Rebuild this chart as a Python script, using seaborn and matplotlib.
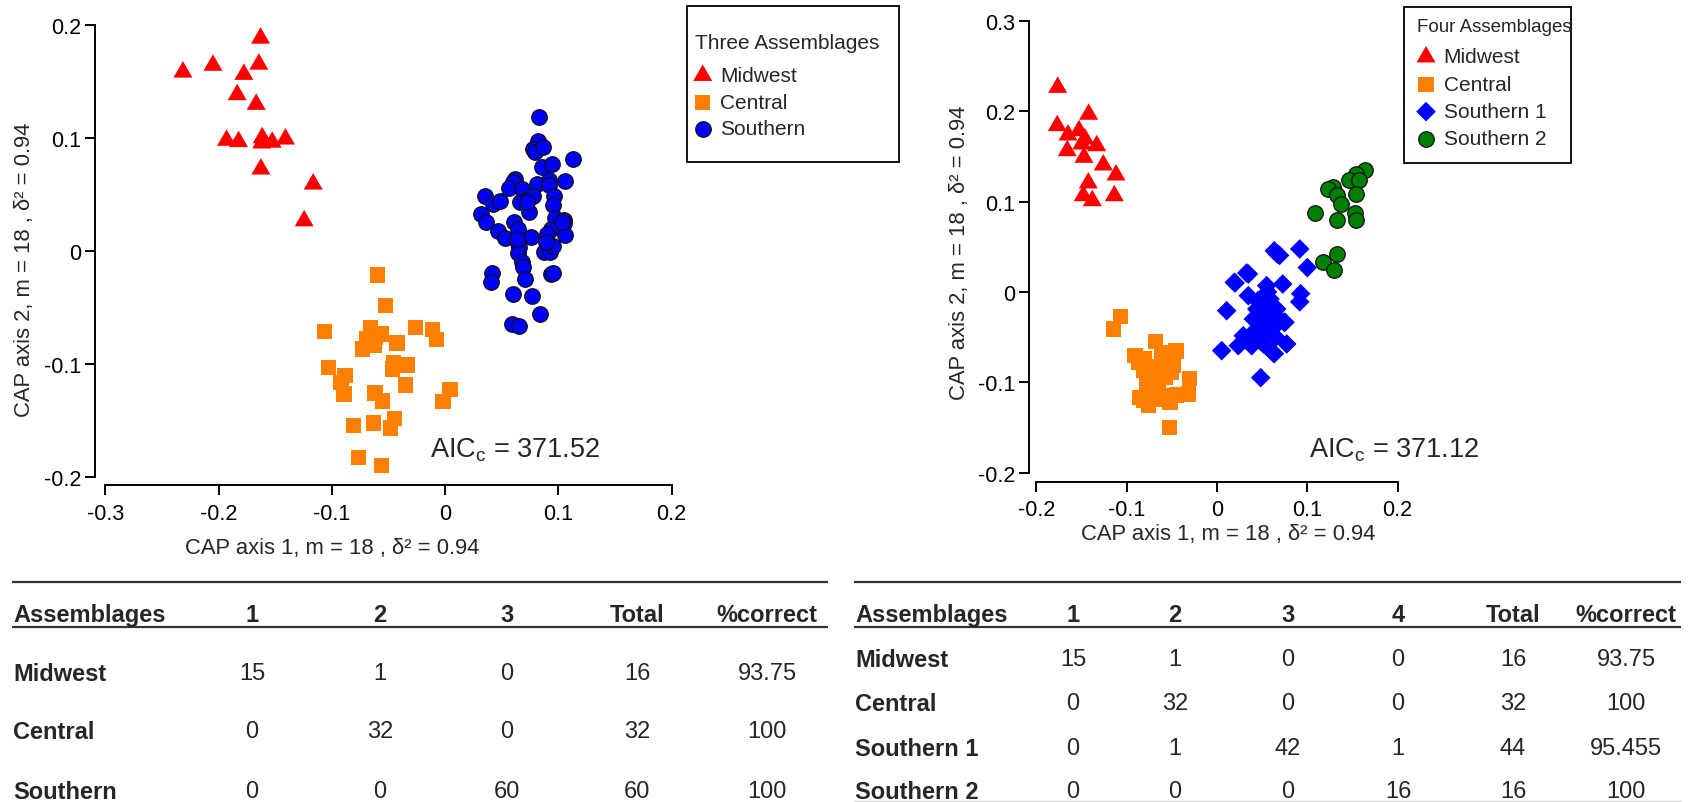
import seaborn as sns
import pandas as pd
import matplotlib.pyplot as plt
from matplotlib.patches import Rectangle

# ---- three assemblages (left panel) ----
mid3_x = [-0.163, -0.2315, -0.205, -0.1645, -0.1777, -0.1836, -0.1668, -0.193,
          -0.1824, -0.1615, -0.162, -0.1527, -0.141, -0.1627, -0.1165, -0.1245]
mid3_y = [0.188, 0.158, 0.164, 0.165, 0.156, 0.138, 0.1295, 0.0977,
          0.0965, 0.100, 0.0953, 0.096, 0.0988, 0.0723, 0.059, 0.0265]

cen3_x = [-0.0597, -0.0524, -0.1065, -0.0662, -0.0618, -0.0691, -0.0730, -0.0627,
          -0.0424, -0.0262, -0.0109, -0.0079, -0.1027, -0.0885, -0.0920, -0.0894,
          -0.0456, -0.0333, -0.0468, -0.0397, -0.0353, -0.0620, -0.0550, 0.0044,
          -0.0020, -0.0810, -0.0633, -0.0450, -0.0480, -0.0765, -0.0559, -0.0565]
cen3_y = [-0.0214, -0.0485, -0.0715, -0.0677, -0.0765, -0.0780, -0.0868, -0.0839,
          -0.0815, -0.0680, -0.0698, -0.0786, -0.1034, -0.1104, -0.1163, -0.1266,
          -0.0992, -0.1010, -0.1045, -0.1016, -0.1187, -0.1257, -0.1328, -0.1228,
          -0.1334, -0.1546, -0.1523, -0.1480, -0.1567, -0.1826, -0.1900, -0.0736]

sou3_x = [0.0827, 0.0818, 0.0779, 0.0792, 0.0862, 0.1130, 0.0856, 0.0944, 0.0812, 0.0921,
          0.1062, 0.0921, 0.0615, 0.0603, 0.0565, 0.0682, 0.0356, 0.0421, 0.0488, 0.0662,
          0.0735, 0.0774, 0.0744, 0.0962, 0.0953, 0.0315, 0.0362, 0.0468, 0.0532, 0.0612,
          0.0647, 0.0757, 0.0974, 0.1045, 0.1051, 0.0933, 0.0898, 0.1057, 0.0644, 0.0650,
          0.0647, 0.0874, 0.0927, 0.0677, 0.0691, 0.0706, 0.0412, 0.0403, 0.0933, 0.0951,
          0.0598, 0.0765, 0.0838, 0.0591, 0.0656, 0.0633, 0.0956, 0.1030, 0.0720, 0.0891]
sou3_y = [0.1180, 0.0973, 0.0900, 0.0870, 0.0915, 0.0814, 0.0741, 0.0764, 0.0593, 0.0628,
          0.0619, 0.0582, 0.0635, 0.0606, 0.0558, 0.0546, 0.0482, 0.0416, 0.0443, 0.0429,
          0.0458, 0.0482, 0.0340, 0.0482, 0.0405, 0.0323, 0.0257, 0.0172, 0.0110, 0.0252,
          0.0193, 0.0119, 0.0290, 0.0275, 0.0246, 0.0193, 0.0149, 0.0140, 0.0069, 0.0031,
          -0.0019, -0.0013, -0.0013, -0.0096, -0.0146, -0.0248, -0.0196, -0.0273, -0.0205, -0.0196,
          -0.0382, -0.0397, -0.0556, -0.0645, -0.0669, 0.0105, 0.0045, 0.0252, 0.0429, 0.0075]

# ---- four assemblages (right panel) ----
mid4_x = [-0.1764, -0.1421, -0.1769, -0.1650, -0.1528, -0.1462, -0.1498, -0.1332,
          -0.1658, -0.1473, -0.1259, -0.1118, -0.1425, -0.1481, -0.1381, -0.1137]
mid4_y = [0.2263, 0.1965, 0.1839, 0.1736, 0.1783, 0.1691, 0.1636, 0.1617,
          0.1562, 0.1489, 0.1404, 0.1293, 0.1205, 0.1064, 0.1009, 0.1064]

cen4_x = [-0.1066, -0.1148, -0.0679, -0.0454, -0.0908, -0.0808, -0.0557, -0.0502,
          -0.0816, -0.0705, -0.0307, -0.0779, -0.0650, -0.0576, -0.0318, -0.0446,
          -0.0816, -0.0761, -0.0631, -0.0565, -0.0705, -0.0742, -0.0528, -0.0871,
          -0.0612, -0.0668, -0.0853, -0.0723, -0.0520, -0.0576, -0.0779, -0.0484]
cen4_y = [-0.0270, -0.0410, -0.0551, -0.0654, -0.0706, -0.0742, -0.0742, -0.0889,
          -0.0872, -0.0823, -0.0956, -0.1038, -0.1000, -0.0945, -0.1129, -0.1140,
          -0.1204, -0.1259, -0.1185, -0.1148, -0.1093, -0.0963, -0.1498, -0.0779,
          -0.0668, -0.1074, -0.1166, -0.1148, -0.1221, -0.0853, -0.0934, -0.0816]

s1_x = [0.0668, 0.0916, 0.0329, 0.0192, 0.0728, 0.0347, 0.0550, 0.0107, 0.0440, 0.0587,
        0.0661, 0.0402, 0.0550, 0.0753, 0.0291, 0.0440, 0.0587, 0.0236, 0.0384, 0.0513,
        0.0052, 0.0623, 0.0772, 0.0484, 0.0916, 0.1000, 0.0635, 0.0926, 0.0693, 0.0635,
        0.0742, 0.0348, 0.0200, 0.0450, 0.0520, 0.0600, 0.0480, 0.0620, 0.0570, 0.0680,
        0.0400, 0.0650, 0.0560, 0.0510]
s1_y = [0.0419, 0.0475, 0.0209, 0.0106, 0.0087, -0.0042, 0.0069, -0.0208, -0.0189, -0.0079,
        -0.0189, -0.0300, -0.0300, -0.0336, -0.0485, -0.0447, -0.0410, -0.0595, -0.0595, -0.0576,
        -0.0650, -0.0676, -0.0576, -0.0949, -0.0110, 0.0269, -0.0683, -0.0020, 0.0404, 0.0455,
        -0.0335, 0.0198, 0.0099, -0.0100, -0.0200, -0.0250, -0.0350, -0.0400, -0.0120, -0.0300,
        -0.0450, -0.0500, 0.0000, -0.0480]

s2_x = [0.1643, 0.1544, 0.1460, 0.1574, 0.1544, 0.1287, 0.1228, 0.1327,
        0.1377, 0.1080, 0.1327, 0.1524, 0.1534, 0.1327, 0.1178, 0.1297]
s2_y = [0.1344, 0.1304, 0.1233, 0.1233, 0.1087, 0.1166, 0.1138, 0.1067,
        0.0968, 0.0869, 0.0791, 0.0869, 0.0791, 0.0424, 0.0336, 0.0246]

aic3 = "371.52"
aic4 = "371.12"
axis1_label = "CAP axis 1, m = 18 , δ² = 0.94"
axis2_label = "CAP axis 2, m = 18 , δ² = 0.94"

x3_ticks = [-0.3, -0.2, -0.1, 0, 0.1, 0.2]
x3_labels = ["-0.3", "-0.2", "-0.1", "0", "0.1", "0.2"]
y3_ticks = [-0.2, -0.1, 0, 0.1, 0.2]
y3_labels = ["-0.2", "-0.1", "0", "0.1", "0.2"]
x4_ticks = [-0.2, -0.1, 0, 0.1, 0.2]
x4_labels = ["-0.2", "-0.1", "0", "0.1", "0.2"]
y4_ticks = [-0.2, -0.1, 0, 0.1, 0.2, 0.3]
y4_labels = ["-0.2", "-0.1", "0", "0.1", "0.2", "0.3"]

# classification tables
t3_header = ["Assemblages", "1", "2", "3", "Total", "%correct"]
t3_rows = ["Midwest", "Central", "Southern"]
t3_values = [["15", "1", "0", "16", "93.75"],
             ["0", "32", "0", "32", "100"],
             ["0", "0", "60", "60", "100"]]
t4_header = ["Assemblages", "1", "2", "3", "4", "Total", "%correct"]
t4_rows = ["Midwest", "Central", "Southern 1", "Southern 2"]
t4_values = [["15", "1", "0", "0", "16", "93.75"],
             ["0", "32", "0", "0", "32", "100"],
             ["0", "1", "42", "1", "44", "95.455"],
             ["0", "0", "0", "16", "16", "100"]]

df3 = pd.concat([
    pd.DataFrame({"cap1": mid3_x, "cap2": mid3_y, "group": "Midwest"}),
    pd.DataFrame({"cap1": cen3_x, "cap2": cen3_y, "group": "Central"}),
    pd.DataFrame({"cap1": sou3_x, "cap2": sou3_y, "group": "Southern"}),
], ignore_index=True)
df4 = pd.concat([
    pd.DataFrame({"cap1": mid4_x, "cap2": mid4_y, "group": "Midwest"}),
    pd.DataFrame({"cap1": cen4_x, "cap2": cen4_y, "group": "Central"}),
    pd.DataFrame({"cap1": s1_x, "cap2": s1_y, "group": "Southern 1"}),
    pd.DataFrame({"cap1": s2_x, "cap2": s2_y, "group": "Southern 2"}),
], ignore_index=True)

styles = {
    "Midwest": dict(marker=(3, 0, 0), color="#FF0000", s=250, edgecolor="none", linewidth=0),
    "Central": dict(marker="s", color="#FF8000", s=121, edgecolor="none", linewidth=0),
    "Southern": dict(marker="o", color="#0000FF", s=125, edgecolor="#111111", linewidth=0.9),
    "Southern 1": dict(marker="D", color="#0000FF", s=100, edgecolor="none", linewidth=0),
    "Southern 2": dict(marker="o", color="#007F00", s=125, edgecolor="#111111", linewidth=0.9),
}

sns.set_theme(style="ticks")
plt.rcParams["font.family"] = ["Liberation Sans", "DejaVu Sans"]
plt.rcParams["axes.unicode_minus"] = False
plt.rcParams["mathtext.default"] = "regular"

W, H = 1693, 803
fig = plt.figure(figsize=(W / 100, H / 100), dpi=100)
FS = 15
TICK_FS = 15.5
LAB_FS = 15.8

# pixel-space overlay for tables and legend frames
tab = fig.add_axes([0, 0, 1, 1])
tab.set_xlim(0, W)
tab.set_ylim(H, 0)
tab.axis("off")


def px_axes(left, right, top, bottom):
    return fig.add_axes([left / W, 1 - bottom / H, (right - left) / W, (bottom - top) / H])


def scatter_panel(ax, df, xlim, ylim, xt, xl, yt, yl, aic, aic_xy):
    for grp, sub in df.groupby("group", sort=False):
        sns.scatterplot(data=sub, x="cap1", y="cap2", ax=ax, label=grp, **styles[grp])
    ax.set_xlim(*xlim)
    ax.set_ylim(*ylim)
    ax.set_xticks(xt)
    ax.set_xticklabels(xl)
    ax.set_yticks(yt)
    ax.set_yticklabels(yl)
    ax.set_xlabel("")
    ax.set_ylabel("")
    for side in ["top", "right"]:
        ax.spines[side].set_visible(False)
    ax.spines["left"].set_bounds(yt[0], yt[-1])
    ax.spines["bottom"].set_bounds(xt[0], xt[-1])
    for side in ["left", "bottom"]:
        ax.spines[side].set_linewidth(1.4)
        ax.spines[side].set_color("black")
    ax.tick_params(axis="both", direction="out", length=7, width=1.4,
                   labelsize=TICK_FS, colors="black")
    ax.tick_params(axis="y", pad=2.5)
    ax.tick_params(axis="x", pad=5.5)
    ax.patch.set_alpha(0)
    fig.text(aic_xy[0] / W, 1 - aic_xy[1] / H, "AIC$_c$ = " + aic,
             fontsize=19.5, ha="left", va="baseline")


def legend_box(ax, frame, title, title_xy, title_fs, first_xy, spacing):
    # frame = (x0, y0, x1, y1) in figure pixels
    tab.add_patch(Rectangle((frame[0], frame[1]), frame[2] - frame[0], frame[3] - frame[1],
                            fill=False, edgecolor="black", lw=1.3))
    tab.text(title_xy[0], title_xy[1], title, fontsize=title_fs, ha="left", va="center")
    handles, labels = ax.get_legend_handles_labels()
    ax.legend(handles, labels, loc="upper left",
              bbox_to_anchor=(first_xy[0] / W, 1 - first_xy[1] / H),
              bbox_transform=fig.transFigure, frameon=False, borderpad=0,
              borderaxespad=0, fontsize=FS, handlelength=0.8, handletextpad=0.45,
              labelspacing=spacing)


ax3 = px_axes(94.6, 899, 7.5, 486.4)
scatter_panel(ax3, df3, (-0.3095, 0.4007), (-0.2074, 0.2160),
              x3_ticks, x3_labels, y3_ticks, y3_labels, aic3, (429.5, 458))
legend_box(ax3, (687.3, 7.3, 899.3, 162.7), "Three Assemblages", (695, 43.3), FS,
           (694.4, 66.9), 0.37)

ax4 = px_axes(1028.8, 1571, 8, 482.9)
scatter_panel(ax4, df4, (-0.2084, 0.3920), (-0.2102, 0.3152),
              x4_ticks, x4_labels, y4_ticks, y4_labels, aic4, (1309, 457))
legend_box(ax4, (1404, 8, 1571, 163.6), "Four Assemblages", (1417, 27), 13.5,
           (1417.7, 48.4), 0.40)

# axis titles
fig.text(331.7 / W, 1 - 549 / H, axis1_label, fontsize=LAB_FS, ha="center", va="center")
fig.text(1227.7 / W, 1 - 534.6 / H, axis1_label, fontsize=LAB_FS, ha="center", va="center")
fig.text(24.5 / W, 1 - 269.6 / H, axis2_label, fontsize=LAB_FS, ha="center", va="center", rotation=90)
fig.text(959 / W, 1 - 252.6 / H, axis2_label, fontsize=LAB_FS, ha="center", va="center", rotation=90)

TFS = 17


def draw_table(header, rows, values, col_x, head_y, row_y, x0, x1, bottom_line):
    tab.plot([x0, x1], [582.7, 582.7], color="#333333", lw=1.6, solid_capstyle="butt")
    tab.plot([x0, x1], [628, 628], color="#333333", lw=1.6, solid_capstyle="butt")
    if bottom_line:
        tab.plot([x0, x1], [801.5, 801.5], color="#d0d0d0", lw=0.8)
    for j, h in enumerate(header):
        tab.text(col_x[j], head_y, h, fontsize=TFS, fontweight="bold",
                 ha="left" if j == 0 else "center", va="center_baseline")
    for i, r in enumerate(rows):
        tab.text(col_x[0], row_y[i], r, fontsize=TFS, fontweight="bold",
                 ha="left", va="center_baseline")
        for j, v in enumerate(values[i]):
            tab.text(col_x[j + 1], row_y[i], v, fontsize=TFS,
                     ha="center", va="center_baseline")


draw_table(t3_header, t3_rows, t3_values, [13, 252, 380, 507, 637, 767],
           613, [672, 730, 790], 12, 828, False)
draw_table(t4_header, t4_rows, t4_values, [855, 1073, 1175, 1288, 1398, 1513, 1626],
           613, [658, 702, 747, 790], 854, 1681, True)

fig.savefig("out.png", dpi=100)
